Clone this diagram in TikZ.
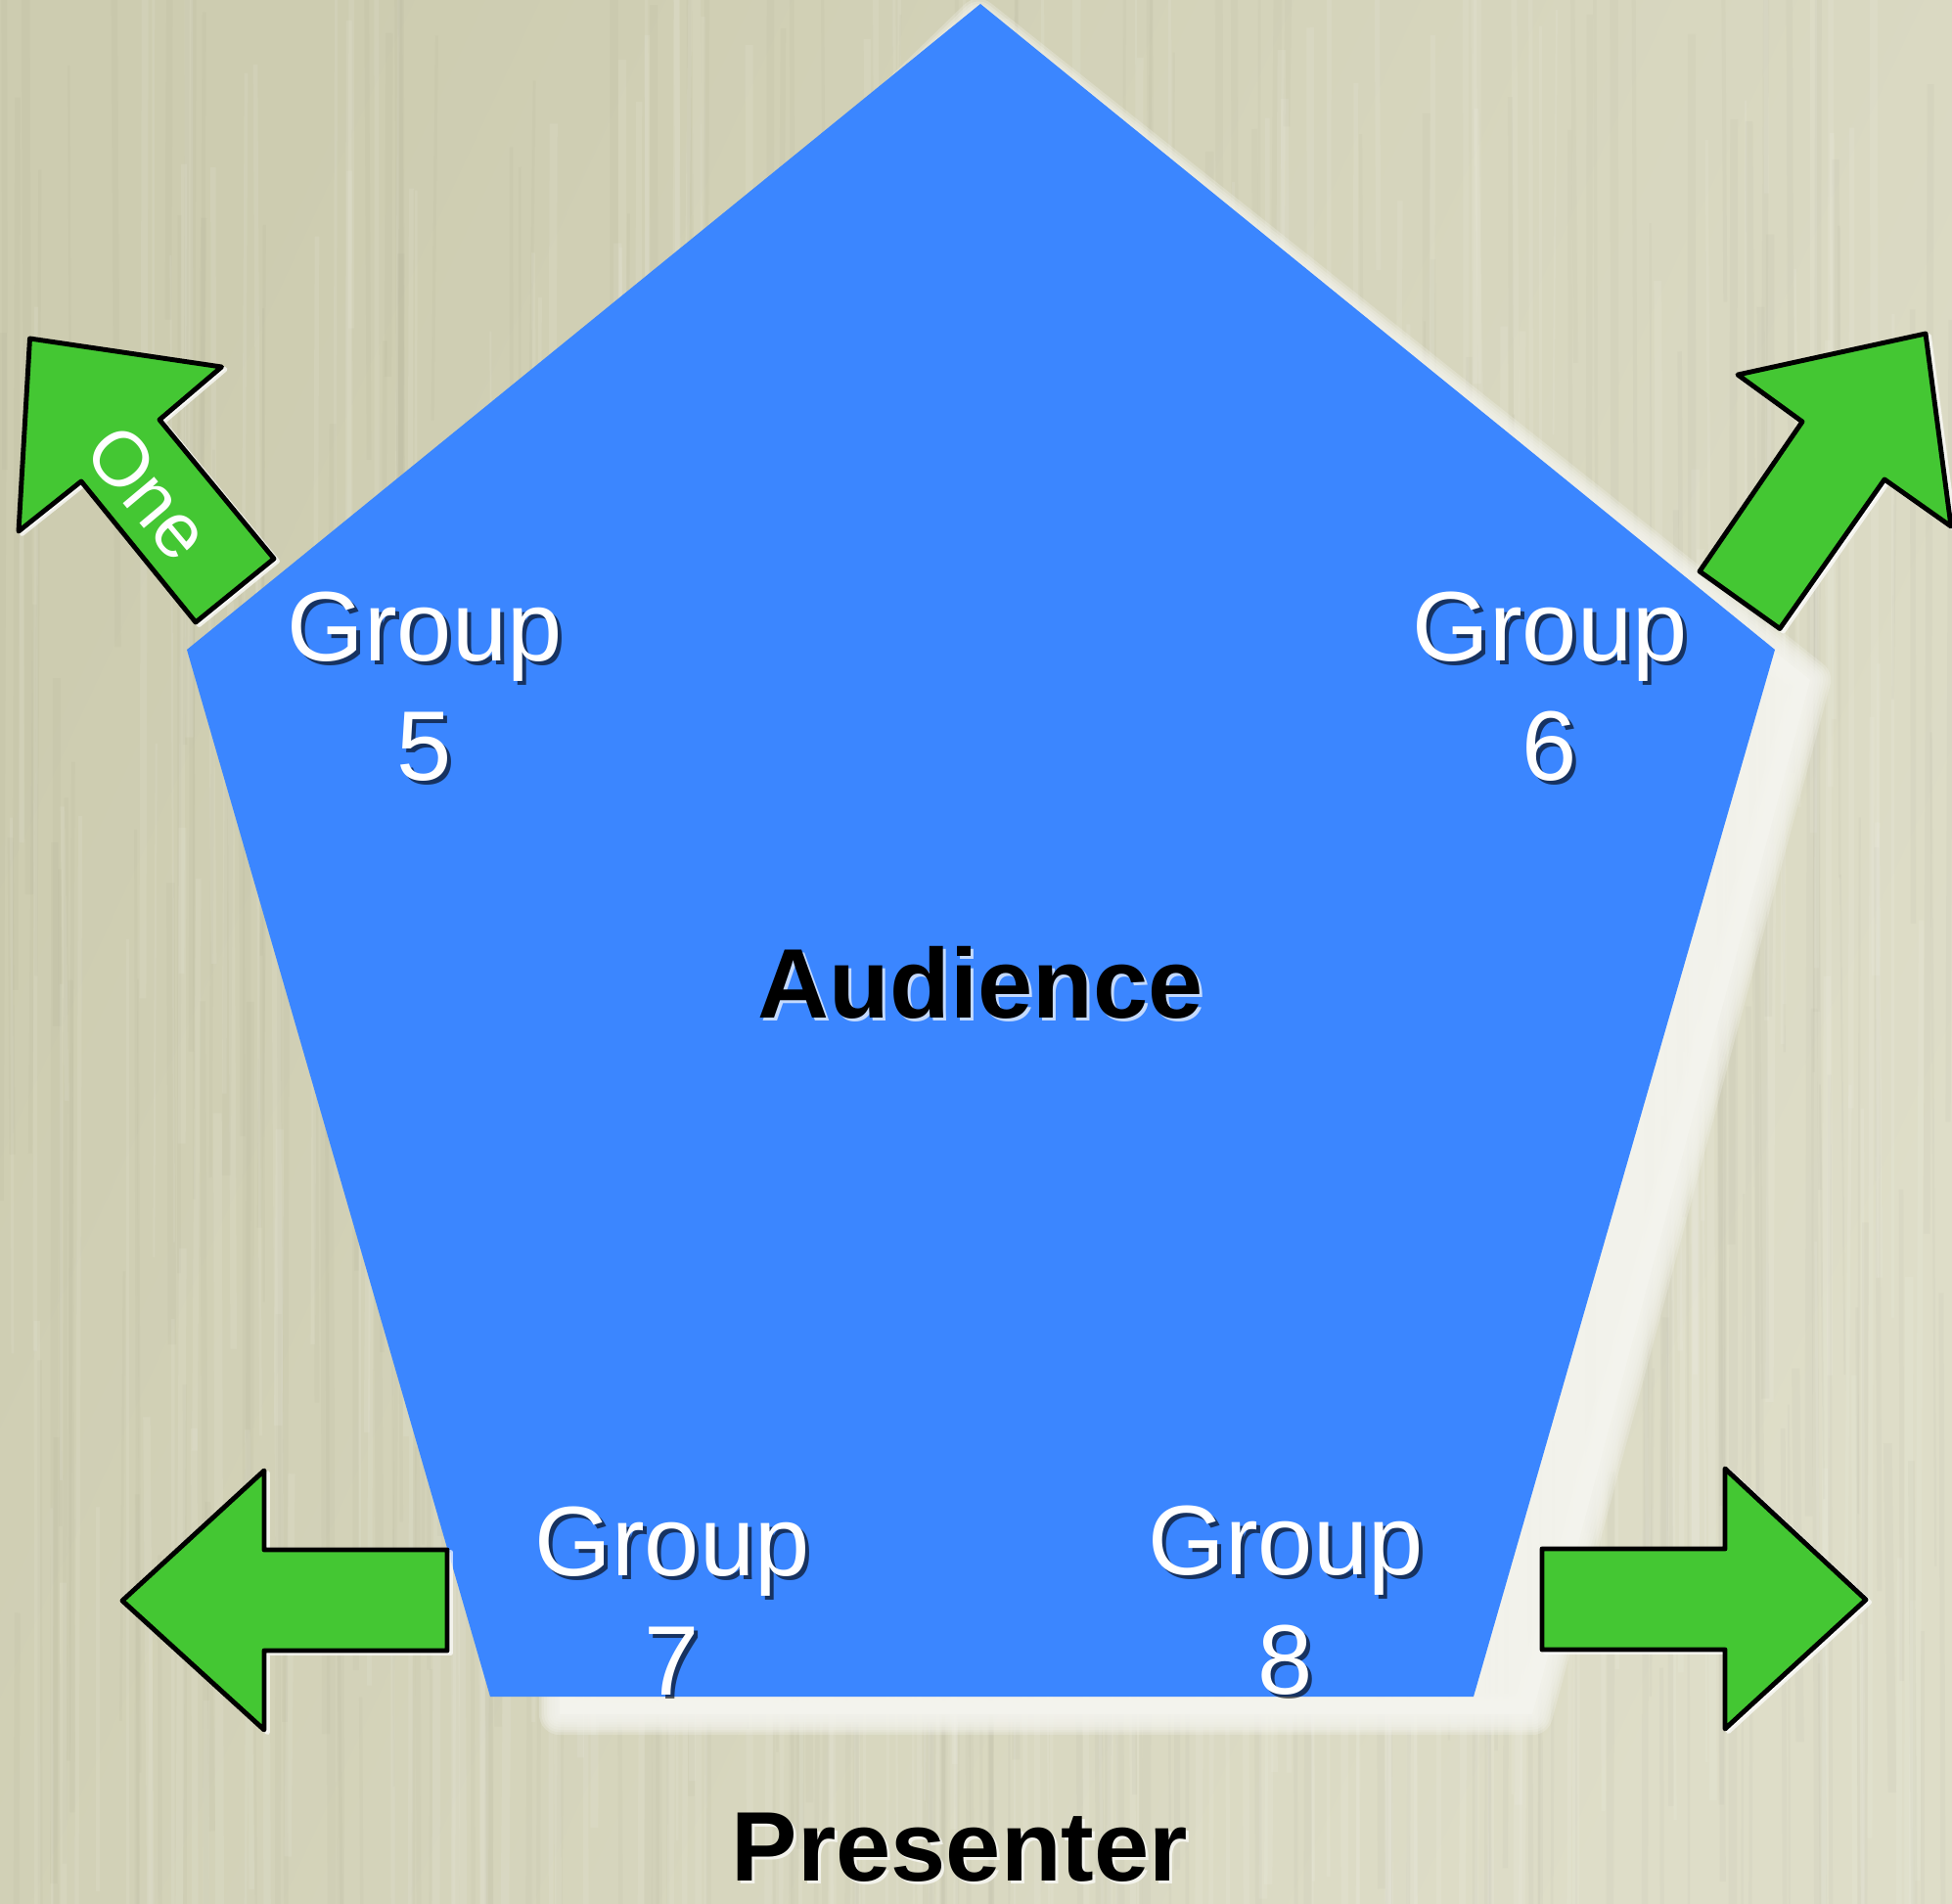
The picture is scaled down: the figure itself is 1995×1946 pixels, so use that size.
\documentclass[tikz,border=0pt]{standalone}
\usepackage{fontspec}
\setmainfont{Liberation Sans}
\usetikzlibrary{calc}
\definecolor{bgleft}{HTML}{CDCCB0}
\definecolor{bgright}{HTML}{DEDDC8}
\definecolor{glowc}{HTML}{F4F4EE}
\definecolor{penta}{HTML}{3B86FF}
\definecolor{arrowgreen}{HTML}{44C733}
\newcommand{\pentapath}{(1002,4) -- (1814,664) -- (1506,1734) -- (501,1734) -- (191,664) -- cycle}
\newcommand{\glowpath}{(1000,20) -- (1850,695) -- (1566,1752) -- (572,1752) -- (572,1600) -- (300,700) -- cycle}
\newcommand{\arrowa}{(30.5,346) -- (226.5,375) -- (163,429) -- (280,571) -- (200,636) -- (83,492) -- (19,543) -- cycle}
\newcommand{\arrowb}{(1968,341) -- (1994,538) -- (1926,490) -- (1819,642.5) -- (1737,584) -- (1842,431) -- (1776,383) -- cycle}
\newcommand{\arrowc}{(125,1636) -- (270,1503) -- (270,1584) -- (457,1584) -- (457,1687) -- (270,1687) -- (270,1768) -- cycle}
\newcommand{\arrowd}{(1907,1635) -- (1763,1501) -- (1763,1583) -- (1576,1583) -- (1576,1686) -- (1763,1686) -- (1763,1767) -- cycle}
\tikzset{
  x=0.02cm,y=-0.02cm,
  arrowshape/.style={fill=arrowgreen,draw=black,line width=2.8pt,line join=round},
  arrowglow/.style={draw=white,fill=white,line width=2.8pt,line join=round,opacity=.7,shift={(3.5,2.5)}},
  textbase/.style={inner sep=0pt,align=center,font=\fontsize{57.5}{69.4}\selectfont},
  grouplabel/.style={textbase,text=white},
  grouplabelshadow/.style={textbase,text=black,text opacity=.62},
  boldlabel/.style={textbase,font=\fontsize{57.5}{69.4}\selectfont\bfseries,text=black},
  boldshadow/.style={textbase,font=\fontsize{57.5}{69.4}\selectfont\bfseries,text=white,text opacity=.7},
  smalllabel/.style={inner sep=0pt,text=white,font=\fontsize{45}{54}\selectfont,rotate=-50},
}
\newcommand{\grouptext}[4]{%
  \node[grouplabelshadow] (#1s) at ($(#2,#3)+(4,4)$) {#4};
  \node[grouplabel] (#1) at (#2,#3) {#4};
}
\begin{document}
\begin{tikzpicture}
\useasboundingbox (0,0) rectangle (1995,1946);
% textured paper ground
\shade[left color=bgleft,right color=bgright,shading angle=65] (0,0) rectangle (1995,1946);
\begin{scope}
\clip (0,0) rectangle (1995,1946);
\pgfmathsetseed{4217}
\foreach \i in {1,...,620}{
  \pgfmathsetmacro\sx{rnd*1995}
  \pgfmathsetmacro\sy{rnd*1946-200}
  \pgfmathsetmacro\sl{300+rnd*900}
  \pgfmathsetmacro\sw{1+rnd*4}
  \pgfmathsetmacro\sd{(rnd-0.5)*10}
  \pgfmathparse{rnd>0.5?1:0}
  \ifnum\pgfmathresult=1
    \draw[white,opacity=.09,line width=\sw pt] (\sx,\sy) -- (\sx+\sd,\sy+\sl);
  \else
    \draw[black!50!bgleft,opacity=.035,line width=\sw pt] (\sx,\sy) -- (\sx+\sd,\sy+\sl);
  \fi
}
\end{scope}
% soft pale glow behind the pentagon
\begin{scope}[line join=round]
\foreach \w in {24,21,18,15,12,9,6,3}{
  \draw[glowc,opacity=.28,line width=\w pt] \glowpath;
}
\fill[glowc,opacity=.93] \glowpath;
\end{scope}
\fill[penta] \pentapath;
% arrows
\path[arrowglow] \arrowa;
\path[arrowglow] \arrowb;
\path[arrowglow] \arrowc;
\path[arrowglow] \arrowd;
\path[arrowshape] \arrowa;
\path[arrowshape] \arrowb;
\path[arrowshape] \arrowc;
\path[arrowshape] \arrowd;
\node[smalllabel] (one) at (152,503) {One};
% labels
\grouptext{g5}{434}{702}{Group\\5}
\grouptext{g6}{1584}{702}{Group\\6}
\grouptext{g7}{687}{1636}{Group\\7}
\grouptext{g8}{1314}{1636}{Group\\8}
\node[boldshadow] (auds) at (1005,1007) {Audience};
\node[boldlabel] (aud) at (1002,1004) {Audience};
\node[boldshadow] (pres) at (984,1891) {Presenter};
\node[boldlabel] (pre) at (981,1888) {Presenter};
\end{tikzpicture}
\end{document}
